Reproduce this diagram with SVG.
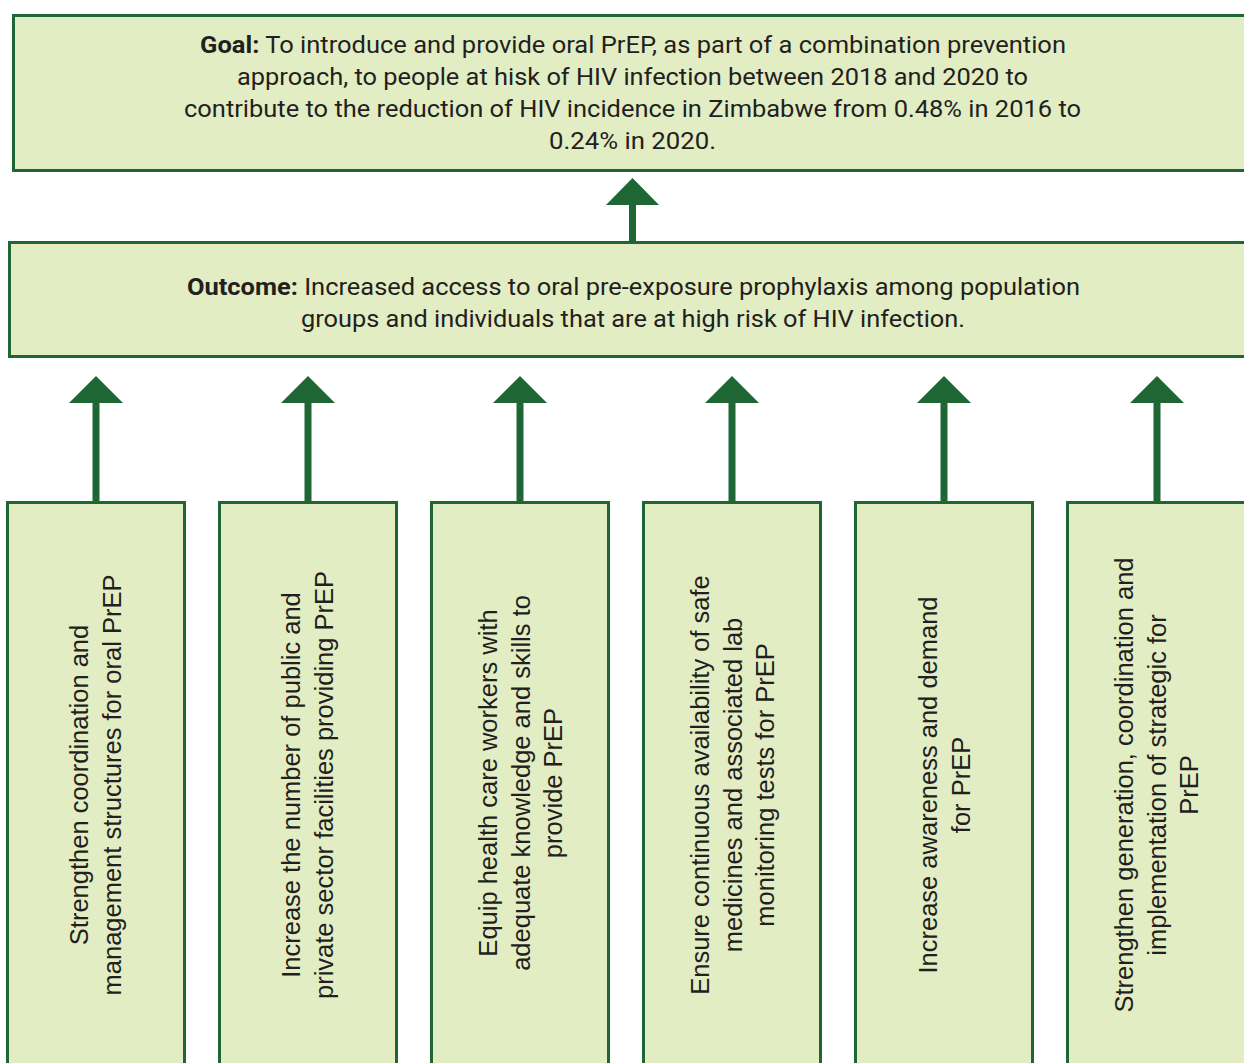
<svg xmlns="http://www.w3.org/2000/svg" width="1244" height="1063" viewBox="0 0 1244 1063">
<style>
.box{fill:#e2edc4;stroke:#1e6634;stroke-width:3}
.arr{fill:#1e6634}
.ht{font-family:Roboto,"Liberation Sans",sans-serif;font-size:23.5px;fill:#231f20;text-anchor:middle}
.ht .b{font-weight:bold}
.vt{font-family:"Liberation Sans",Arial,sans-serif;font-size:25.5px;fill:#231f20;text-anchor:middle}
</style>
<rect width="1244" height="1063" fill="#ffffff"/>
<g id="goal">
<rect class="box" x="13.5" y="15.5" width="1240" height="155"/>
<text class="ht" x="633" y="53" textLength="866" lengthAdjust="spacingAndGlyphs"><tspan class="b">Goal:</tspan> To introduce and provide oral PrEP, as part of a combination prevention</text>
<text class="ht" x="632.5" y="85" textLength="791" lengthAdjust="spacingAndGlyphs">approach, to people at hisk of HIV infection between 2018 and 2020 to</text>
<text class="ht" x="632.5" y="117" textLength="897" lengthAdjust="spacingAndGlyphs">contribute to the reduction of HIV incidence in Zimbabwe from 0.48% in 2016 to</text>
<text class="ht" x="632.5" y="149" textLength="167" lengthAdjust="spacingAndGlyphs">0.24% in 2020.</text>
</g>
<g id="outcome">
<rect class="box" x="9.5" y="242.5" width="1244" height="114"/>
<text class="ht" x="633.5" y="295" textLength="893" lengthAdjust="spacingAndGlyphs"><tspan class="b">Outcome:</tspan> Increased access to oral pre-exposure prophylaxis among population</text>
<text class="ht" x="633" y="327" textLength="664" lengthAdjust="spacingAndGlyphs">groups and individuals that are at high risk of HIV infection.</text>
</g>
<g id="n1">
<rect class="box" x="7.5" y="502.5" width="177" height="580"/>
<text class="vt" transform="translate(88,785) rotate(-90)">Strengthen coordination and</text>
<text class="vt" transform="translate(120.5,785) rotate(-90)">management structures for oral PrEP</text>
</g>
<g id="n2">
<rect class="box" x="219.5" y="502.5" width="177" height="580"/>
<text class="vt" transform="translate(300,785) rotate(-90)">Increase the number of public and</text>
<text class="vt" transform="translate(332.5,785) rotate(-90)">private sector facilities providing PrEP</text>
</g>
<g id="n3">
<rect class="box" x="431.5" y="502.5" width="177" height="580"/>
<text class="vt" transform="translate(497,783) rotate(-90)">Equip health care workers with</text>
<text class="vt" transform="translate(529.5,783) rotate(-90)">adequate knowledge and skills to</text>
<text class="vt" transform="translate(562,783) rotate(-90)">provide PrEP</text>
</g>
<g id="n4">
<rect class="box" x="643.5" y="502.5" width="177" height="580"/>
<text class="vt" transform="translate(709,785) rotate(-90)">Ensure continuous availability of safe</text>
<text class="vt" transform="translate(741.5,785) rotate(-90)">medicines and associated lab</text>
<text class="vt" transform="translate(774,785) rotate(-90)">monitoring tests for PrEP</text>
</g>
<g id="n5">
<rect class="box" x="855.5" y="502.5" width="177" height="580"/>
<text class="vt" transform="translate(937,785) rotate(-90)">Increase awareness and demand</text>
<text class="vt" transform="translate(969.5,785) rotate(-90)">for PrEP</text>
</g>
<g id="n6">
<rect class="box" x="1067.5" y="502.5" width="180" height="580"/>
<text class="vt" transform="translate(1133,785) rotate(-90)">Strengthen generation, coordination and</text>
<text class="vt" transform="translate(1165.5,785) rotate(-90)">implementation of strategic for</text>
<text class="vt" transform="translate(1198,785) rotate(-90)">PrEP</text>
</g>
<g id="connectors">
<path class="arr" d="M632.5,178 L659,205 L636,205 L636,241 L629,241 L629,205 L606,205 Z"/>
<path class="arr" d="M96,376 L123,403 L99.5,403 L99.5,501 L92.5,501 L92.5,403 L69,403 Z"/>
<path class="arr" d="M308,376 L335,403 L311.5,403 L311.5,501 L304.5,501 L304.5,403 L281,403 Z"/>
<path class="arr" d="M520,376 L547,403 L523.5,403 L523.5,501 L516.5,501 L516.5,403 L493,403 Z"/>
<path class="arr" d="M732,376 L759,403 L735.5,403 L735.5,501 L728.5,501 L728.5,403 L705,403 Z"/>
<path class="arr" d="M944,376 L971,403 L947.5,403 L947.5,501 L940.5,501 L940.5,403 L917,403 Z"/>
<path class="arr" d="M1157,376 L1184,403 L1160.5,403 L1160.5,501 L1153.5,501 L1153.5,403 L1130,403 Z"/>
</g>
</svg>
